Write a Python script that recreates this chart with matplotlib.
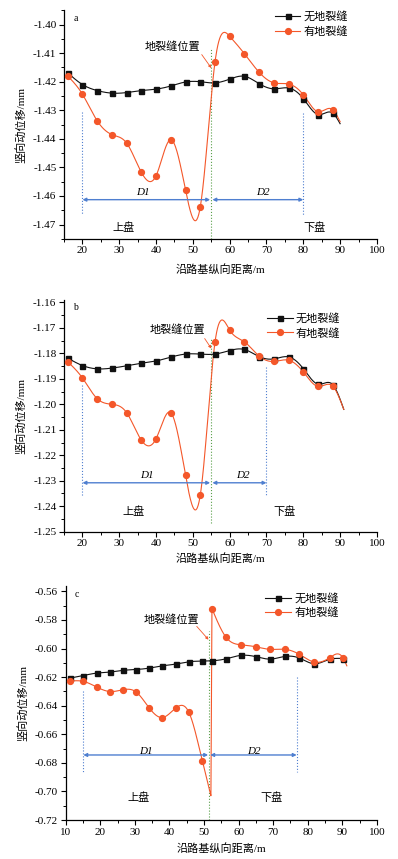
import matplotlib
matplotlib.use("Agg")
import matplotlib.pyplot as plt
import numpy as np

plt.rcParams['font.family'] = ['Liberation Serif', 'Noto Sans CJK SC']

# panel a
xa = [16, 20, 24, 28, 32, 36, 40, 44, 48, 52, 56, 60, 64, 68, 72, 76, 80, 84, 88, 90]
a_no = [-1.4169, -1.4210, -1.4231, -1.4240, -1.4238, -1.4231, -1.4226, -1.4215, -1.4201, -1.4200,
        -1.4204, -1.4191, -1.4181, -1.4207, -1.4225, -1.4222, -1.4259, -1.4315, -1.4310, -1.4347]
a_yes = [-1.4180, -1.4244, -1.4337, -1.4385, -1.4415, -1.4517, -1.4529, -1.4403, -1.4579, -1.4639,
         -1.4132, -1.4041, -1.4102, -1.4167, -1.4204, -1.4208, -1.4246, -1.4305, -1.4298, -1.4340]

# panel b
xb = [16, 20, 24, 28, 32, 36, 40, 44, 48, 52, 56, 60, 64, 68, 72, 76, 80, 84, 88, 91]
b_no = [-1.1819, -1.1848, -1.1861, -1.1858, -1.1849, -1.1839, -1.1830, -1.1815, -1.1803, -1.1803,
        -1.1803, -1.1789, -1.1785, -1.1813, -1.1822, -1.1814, -1.1860, -1.1921, -1.1923, -1.2020]
b_yes = [-1.1833, -1.1897, -1.1978, -1.2000, -1.2033, -1.2141, -1.2135, -1.2033, -1.2278, -1.2357,
         -1.1757, -1.1709, -1.1755, -1.1811, -1.1832, -1.1827, -1.1873, -1.1930, -1.1929, -1.2020]

# panel c
xc_no = [11.3, 15.1, 19.0, 22.8, 26.5, 30.3, 34.2, 38.0, 41.8, 45.6, 49.5, 52.3,
         56.4, 60.7, 65.0, 69.2, 73.5, 77.6, 81.9, 86.3, 90.3]
c_no = [-0.6207, -0.6189, -0.6172, -0.6165, -0.6153, -0.6147, -0.6137, -0.6121, -0.6109, -0.6093,
        -0.6088, -0.6086, -0.6072, -0.6048, -0.6057, -0.6074, -0.6055, -0.6067, -0.6107, -0.6076, -0.6070]
# 52.0 is the bottom of the dip at the crack (no marker there)
xc_yes = [11.3, 15.1, 19.0, 22.8, 26.5, 30.3, 34.2, 38.0, 41.8, 45.6, 49.5, 52.0, 52.3,
          56.4, 60.7, 65.0, 69.2, 73.5, 77.6, 81.9, 86.3, 90.3, 91.3]
c_yes = [-0.6228, -0.6230, -0.6270, -0.6301, -0.6289, -0.6303, -0.6417, -0.6483, -0.6417, -0.6445,
         -0.6786, -0.7030, -0.5721, -0.5922, -0.5974, -0.5988, -0.6006, -0.6006, -0.6041, -0.6095,
         -0.6065, -0.6069, -0.6121]

BLACK = '#111111'
ORANGE = '#f4572a'
BLUE = '#4f7fd0'
GREEN = '#5aa04a'


def spline(x, y, num=600):
    # natural cubic spline, like origin's spline connect
    x = np.asarray(x, float)
    y = np.asarray(y, float)
    n = len(x)
    h = np.diff(x)
    A = np.zeros((n, n))
    r = np.zeros(n)
    A[0, 0] = A[-1, -1] = 1
    for i in range(1, n - 1):
        A[i, i - 1] = h[i - 1]
        A[i, i] = 2 * (h[i - 1] + h[i])
        A[i, i + 1] = h[i]
        r[i] = 3 * ((y[i + 1] - y[i]) / h[i] - (y[i] - y[i - 1]) / h[i - 1])
    c = np.linalg.solve(A, r)
    b = (y[1:] - y[:-1]) / h - h * (2 * c[:-1] + c[1:]) / 3
    d = (c[1:] - c[:-1]) / (3 * h)
    xs = np.linspace(x[0], x[-1], num)
    idx = np.clip(np.searchsorted(x, xs) - 1, 0, n - 2)
    dx = xs - x[idx]
    return xs, y[idx] + b[idx] * dx + c[idx] * dx ** 2 + d[idx] * dx ** 3


def curve(x, y, split=None):
    if split is None:
        return spline(x, y)
    x1, y1 = spline(x[:split], y[:split])
    x2, y2 = spline(x[split:], y[split:])
    return np.concatenate([x1, x2]), np.concatenate([y1, y2])


def draw(ax, x_no, y_no, x_yes, y_yes, mk_no, mk_yes, split=None):
    xs, ys = curve(x_no, y_no)
    ax.plot(xs, ys, color=BLACK, lw=0.8, zorder=3)
    xs, ys = curve(x_yes, y_yes, split)
    ax.plot(xs, ys, color=ORANGE, lw=0.8, zorder=3)
    ax.plot([x_no[i] for i in mk_no], [y_no[i] for i in mk_no], 's', color=BLACK, ms=3.6, zorder=4)
    ax.plot([x_yes[i] for i in mk_yes], [y_yes[i] for i in mk_yes], 'o', color=ORANGE, ms=4.2, zorder=5)
    ax.plot([], [], '-s', color=BLACK, ms=3.6, lw=0.8, label='无地裂缝')
    ax.plot([], [], '-o', color=ORANGE, ms=4.2, lw=0.8, label='有地裂缝')


def style(ax, xlim, ylim, letter, leg_xy, xlab_y):
    ax.set_xlim(*xlim)
    ax.set_ylim(*ylim)
    ax.set_xticks(np.arange(20 if xlim[0] > 10 else 10, 101, 10))
    ax.set_xticks(np.arange(15 if xlim[0] > 10 else 10, 101, 5), minor=True)
    ax.yaxis.set_major_formatter(matplotlib.ticker.FormatStrFormatter('%.2f'))
    for s in ['top', 'right']:
        ax.spines[s].set_visible(False)
    for s in ['left', 'bottom']:
        ax.spines[s].set_linewidth(0.9)
    ax.tick_params(which='major', direction='out', length=3.5, width=0.8, labelsize=8, pad=2)
    ax.tick_params(which='minor', direction='out', length=2, width=0.7)
    ax.set_ylabel('竖向动位移/mm', fontsize=8)
    ax.set_xlabel('沿路基纵向距离/m', fontsize=8)
    ax.yaxis.set_label_coords(-0.12, 0.5)
    ax.xaxis.set_label_coords(0.5, xlab_y)
    ax.text(0.03, 0.965, letter, transform=ax.transAxes, fontsize=7, va='center')
    ax.legend(loc='upper left', bbox_to_anchor=leg_xy, frameon=False, fontsize=8,
              handlelength=2.3, handletextpad=0.3, labelspacing=0.35, borderpad=0, borderaxespad=0)


def marks(ax, xl, xr, xc, y_d, dot_l, dot_r, crack_y, txt_xy, arr, d1, d2, pan_y, pan_x):
    ax.plot([xl, xl], dot_l, ':', color=BLUE, lw=0.8)
    ax.plot([xr, xr], dot_r, ':', color=BLUE, lw=0.8)
    ax.plot([xc, xc], crack_y, ':', color=GREEN, lw=0.8, zorder=2)
    ax.annotate('', xy=(xl, y_d), xytext=(xc - 0.3, y_d),
                arrowprops=dict(arrowstyle='<|-|>', color=BLUE, lw=1.0, mutation_scale=5,
                                shrinkA=0, shrinkB=0))
    ax.annotate('', xy=(xc + 0.3, y_d), xytext=(xr, y_d),
                arrowprops=dict(arrowstyle='<|-|>', color=BLUE, lw=1.0, mutation_scale=5,
                                shrinkA=0, shrinkB=0))
    ax.text(d1[0], d1[1], 'D1', style='italic', fontsize=8, ha='center', va='center')
    ax.text(d2[0], d2[1], 'D2', style='italic', fontsize=8, ha='center', va='center')
    ax.text(pan_x[0], pan_y, '上盘', fontsize=8, ha='center', va='center')
    ax.text(pan_x[1], pan_y, '下盘', fontsize=8, ha='center', va='center')
    ax.text(txt_xy[0], txt_xy[1], '地裂缝位置', fontsize=8, ha='center', va='center')
    ax.annotate('', xy=arr[1], xytext=arr[0],
                arrowprops=dict(arrowstyle='-|>', color=ORANGE, lw=0.6, mutation_scale=4,
                                shrinkA=0, shrinkB=0))


fig = plt.figure(figsize=(3.98, 8.59), dpi=100)
L, W = 0.161, 0.786
ax1 = fig.add_axes([L, 0.722, W, 0.266])
ax2 = fig.add_axes([L, 0.381, W, 0.270])
ax3 = fig.add_axes([0.165, 0.0454, 0.782, 0.272])

draw(ax1, xa, a_no, xa, a_yes, range(19), range(19))
style(ax1, (15, 100), (-1.475, -1.395), 'a', (0.674, 0.997), -0.112)
ax1.set_yticks(np.arange(-1.47, -1.395, 0.01))
ax1.set_yticks(np.arange(-1.475, -1.395, 0.005), minor=True)
marks(ax1, 20, 80, 55, -1.4613, (-1.4307, -1.4668), (-1.431, -1.4668), (-1.475, -1.4084),
      (44.5, -1.4077), ((52.4, -1.4105), (55.0, -1.4152)), (36.4, -1.4587), (68.9, -1.4587),
      -1.471, (31.1, 83.0))

draw(ax2, xb, b_no, xb, b_yes, range(19), range(19))
style(ax2, (15, 100), (-1.25, -1.159), 'b', (0.649, 0.944), -0.093)
ax2.set_yticks(np.arange(-1.25, -1.155, 0.01))
ax2.set_yticks(np.arange(-1.25, -1.155, 0.005), minor=True)
marks(ax2, 20, 70, 55, -1.2308, (-1.1926, -1.2359), (-1.1854, -1.2359), (-1.2467, -1.1743),
      (45.7, -1.1707), ((53.2, -1.1742), (55.0, -1.1781)), (37.5, -1.2281), (63.5, -1.2281),
      -1.2422, (33.9, 74.8))

mk_c = [i for i in range(len(xc_yes) - 1) if i != 11]
draw(ax3, xc_no, c_no, xc_yes, c_yes, range(21), mk_c, split=12)
style(ax3, (10, 100), (-0.72, -0.5565), 'c', (0.641, 0.973), -0.099)
ax3.set_yticks(np.arange(-0.72, -0.555, 0.02))
ax3.set_yticks(np.arange(-0.72, -0.555, 0.01), minor=True)
marks(ax3, 15.1, 76.8, 51.5, -0.6745, (-0.630, -0.6861), (-0.620, -0.6861), (-0.72, -0.588),
      (40.7, -0.5798), ((47.9, -0.5845), (51.3, -0.5938)), (33.1, -0.6724), (64.3, -0.6724),
      -0.7047, (31.0, 69.6))

fig.savefig('out.png', dpi=100)
